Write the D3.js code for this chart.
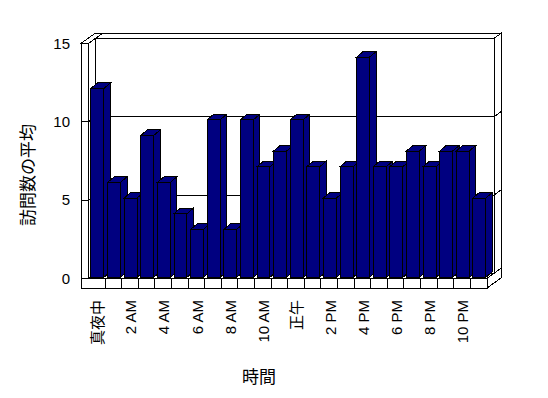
<!DOCTYPE html>
<html>
<head>
<meta charset="utf-8">
<script src="https://cdn.jsdelivr.net/npm/d3@7/dist/d3.min.js"></script>
<style>
body { margin: 0; background: #fff; }
svg { display: block; }
text { font-family: "Liberation Sans", Arial, "Noto Sans CJK JP", sans-serif; fill: #000; }
</style>
</head>
<body>
<svg id="chart" width="548" height="398"></svg>
<script>
// data
var categories = ["真夜中", "1 AM", "2 AM", "3 AM", "4 AM", "5 AM", "6 AM", "7 AM", "8 AM", "9 AM", "10 AM", "11 AM",
    "正午", "1 PM", "2 PM", "3 PM", "4 PM", "5 PM", "6 PM", "7 PM", "8 PM", "9 PM", "10 PM", "11 PM"];
var visits = [12, 6, 5, 9, 6, 4, 3, 10, 3, 10, 7, 8, 10, 7, 5, 7, 14, 7, 7, 8, 7, 8, 8, 5];
var yTicks = [0, 5, 10, 15];
var gridTicks = [5, 10];
var yTitle = "訪問数の平均";
var xTitle = "時間";

var svg = d3.select("#chart");
var g = svg.append("g").attr("shape-rendering", "crispEdges");

var wallOuter = 81;       // outer left edge of side wall
var floorBottom = 288;
var DX = 7, DY = -5;      // one depth step (front -> back wall)

var x = d3.scaleBand().domain(categories).range([88.5, 487]);
var y = d3.scaleLinear().domain([0, 15]).range([278.3, 43.4]);

var x0 = x.range()[0], x1 = x.range()[1];
var yb = y(0), yt = y(15);

function poly(pts, fill) {
    g.append("polygon")
        .attr("points", pts.map(function (p) { return p.join(","); }).join(" "))
        .style("fill", fill || "#fff")
        .style("stroke", "#000")
        .style("stroke-width", 1);
}
function line(ax, ay, bx, by) {
    g.append("line")
        .attr("x1", ax).attr("y1", ay).attr("x2", bx).attr("y2", by)
        .style("stroke", "#000").style("stroke-width", 1);
}

// back wall inner face
poly([[x0 + DX, yb + DY], [x1 + DX, yb + DY], [x1 + DX, yt + DY], [x0 + DX, yt + DY]]);
// back wall right end
poly([[x1 + DX, yb + DY], [x1 + 2 * DX, yb + 2 * DY], [x1 + 2 * DX, yt + 2 * DY], [x1 + DX, yt + DY]]);
// back wall top
poly([[x0 + DX, yt + DY], [x1 + DX, yt + DY], [x1 + 2 * DX, yt + 2 * DY], [x0 + 2 * DX, yt + 2 * DY]]);
// left wall top
poly([[wallOuter, yt], [x0, yt], [x0 + 2 * DX, yt + 2 * DY], [wallOuter + 2 * DX, yt + 2 * DY]]);
// left wall inner face
poly([[x0, yb], [x0, yt], [x0 + DX, yt + DY], [x0 + DX, yb + DY]]);
// left wall front face
poly([[wallOuter, yb], [x0, yb], [x0, yt], [wallOuter, yt]]);

gridTicks.forEach(function (t) {
    var yy = y(t);
    line(wallOuter, yy, x0, yy);
    line(x0, yy, x0 + DX, yy + DY);
    line(x0 + DX, yy + DY, x1 + DX, yy + DY);
    line(x1 + DX, yy + DY, x1 + 2 * DX, yy + 2 * DY);
});

// floor
poly([[x0, yb], [x1, yb], [x1 + DX, yb + DY], [x0 + DX, yb + DY]]);
poly([[wallOuter, yb], [x1, yb], [x1, floorBottom], [wallOuter, floorBottom]]);
poly([[x1, yb], [x1 + 2 * DX, yb + 2 * DY], [x1 + 2 * DX, floorBottom + 2 * DY], [x1, floorBottom]]);
categories.slice(1).forEach(function (c) {
    line(x(c), yb, x(c), floorBottom);
});

// bars
var inset = x.bandwidth() * 0.15;
var bw = x.bandwidth() * 0.78;
var BDX = 6.5, BDY = -5.5;
var barColor = "#000080";

categories.forEach(function (c, i) {
    var fx = x(c) + inset;
    var ty = y(visits[i]) - 2;
    var by = yb - 1;
    poly([[fx, by], [fx + bw, by], [fx + bw, ty], [fx, ty]], barColor);
    poly([[fx, ty], [fx + bw, ty], [fx + bw + BDX, ty + BDY], [fx + BDX, ty + BDY]], barColor);
    poly([[fx + bw, ty], [fx + bw + BDX, ty + BDY], [fx + bw + BDX, by + BDY], [fx + bw, by]], barColor);
});

// y tick labels
svg.selectAll(".ytick").data(yTicks).enter().append("text")
    .attr("class", "ytick")
    .attr("x", 70)
    .attr("y", function (d) { return y(d); })
    .attr("dy", "0.35em")
    .attr("text-anchor", "end")
    .style("font-size", "15px")
    .text(function (d) { return d; });

// x labels, every other category
svg.selectAll(".xlab").data(categories.filter(function (d, i) { return i % 2 === 0; }))
    .enter().append("text")
    .attr("class", "xlab")
    .attr("transform", function (d) {
        return "translate(" + (x(d) + x.bandwidth() / 2 + 1) + ",300) rotate(-90)";
    })
    .attr("dy", "0.35em")
    .attr("text-anchor", "end")
    .style("font-size", "15px")
    .text(function (d) { return d; });

svg.append("text")
    .attr("transform", "translate(28,175) rotate(-90)")
    .attr("dy", "0.35em")
    .attr("text-anchor", "middle")
    .style("font-size", "17px")
    .text(yTitle);

svg.append("text")
    .attr("x", 259)
    .attr("y", 377)
    .attr("dy", "0.35em")
    .attr("text-anchor", "middle")
    .style("font-size", "17px")
    .text(xTitle);
</script>
</body>
</html>
